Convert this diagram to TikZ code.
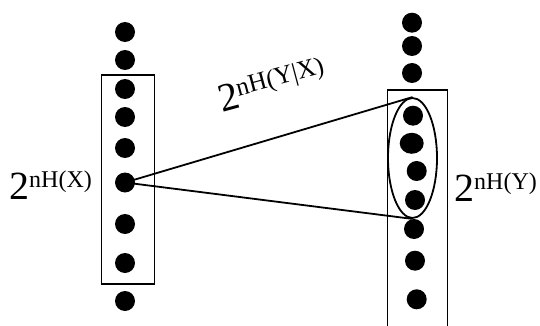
\documentclass[tikz,border=0pt]{standalone}
\usepackage{fontspec}
\setmainfont{Liberation Serif}
\usetikzlibrary{shapes.geometric}
\newcommand{\twolab}[2][24]{{\fontsize{40}{40}\selectfont 2}\raisebox{12pt}{\fontsize{#1}{#1}\selectfont #2}}
\begin{document}
\begin{tikzpicture}[x=1pt,y=-1pt,
  dot/.style={circle,fill=black,inner sep=0pt,minimum size=20pt},
  boxline/.style={draw=black,line width=1.4pt},
  link/.style={draw=black,line width=1.8pt},
  lbl/.style={inner sep=0pt,anchor=base west}]
\useasboundingbox[fill=white] (0,0) rectangle (540,326);
% left box
\node[boxline,minimum width=52.6pt,minimum height=209pt,inner sep=0pt] (lbox) at (128,179.5) {};
% right box (open at bottom)
\draw[boxline] (387.3,330) -- (387.3,90) -- (447.7,90) -- (447.7,330);
% left dots
\foreach \i/\y in {1/32,2/60,3/89,4/117,5/148,6/182.5,7/224,8/263,9/301}
  \node[dot] (l\i) at (125,\y) {};
% right dots
\foreach \i/\x/\y in {1/412/22.7,2/412/46,3/412/73,4/413/115.7,6/416.7/171,7/415/200,8/414/229,9/415/260.7,10/416.7/299.3}
  \node[dot] (r\i) at (\x,\y) {};
\node[dot,minimum width=24pt,minimum height=21pt,ellipse] (r5) at (411.7,143.3) {};
% ellipse
\node[draw,ellipse,line width=1.8pt,minimum width=49pt,minimum height=120pt,inner sep=0pt] (E) at (412.5,158) {};
% connectors
\draw[link] (l6.center) -- (E.north);
\draw[link] (l6.center) -- (E.south);
% labels
\node[lbl] (hx) at (9,199) {\twolab{nH(X)}};
\node[lbl] (hy) at (454,201) {\twolab{nH(Y)}};
\node[lbl,rotate=15] (hyx) at (222,113) {\twolab[25.5]{nH(Y|X)}};
\end{tikzpicture}
\end{document}
